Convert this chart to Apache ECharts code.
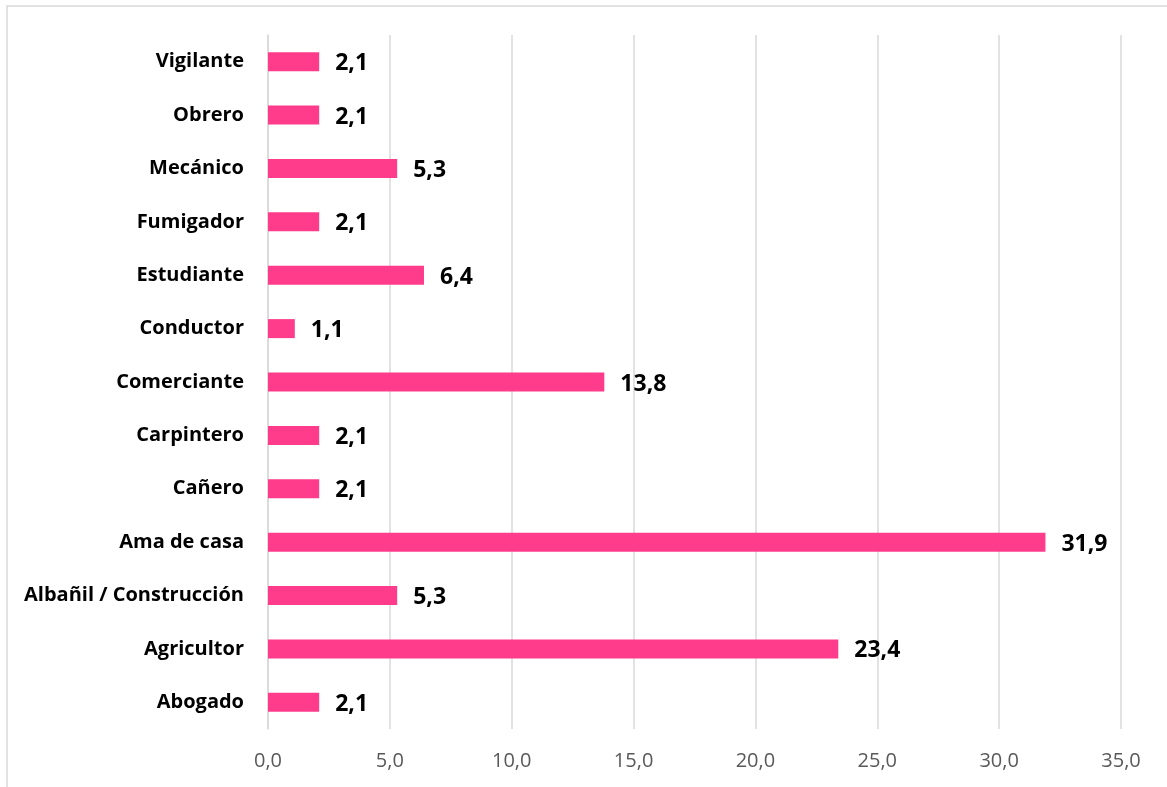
<!DOCTYPE html>
<html><head><meta charset="utf-8">
<script src="https://cdn.jsdelivr.net/npm/echarts@6/dist/echarts.min.js"></script>
<style>html,body{margin:0;padding:0;background:#fff}#c{width:1167px;height:787px}</style>
</head><body><div id="c"></div>
<script>
const categories = ['Abogado','Agricultor','Albañil / Construcción','Ama de casa','Cañero','Carpintero','Comerciante','Conductor','Estudiante','Fumigador','Mecánico','Obrero','Vigilante'];
const values = [2.1, 23.4, 5.3, 31.9, 2.1, 2.1, 13.8, 1.1, 6.4, 2.1, 5.3, 2.1, 2.1];
const fmt = v => v.toFixed(1).replace('.', ',');
const chart = echarts.init(document.getElementById('c'));
chart.setOption({
  animation:false,
  backgroundColor:'#fff',
  graphic:[{type:'rect',shape:{x:7,y:6,width:1200,height:900},style:{fill:'none',stroke:'#d9d9d9',lineWidth:1.5},silent:true}],
  grid:{left:268,right:46,top:35,bottom:58},
  xAxis:{type:'value',min:0,max:35,interval:5,
    axisLine:{show:false},axisTick:{show:false},
    splitLine:{lineStyle:{color:'#d9d9d9',width:1.5}},
    axisLabel:{formatter:v=>fmt(v),color:'#595959',fontSize:20,fontFamily:'Open Sans',margin:22}},
  yAxis:{type:'category',data:categories,
    axisLine:{show:true,lineStyle:{color:'#d9d9d9',width:1.5}},axisTick:{show:false},
    axisLabel:{color:'#000',fontWeight:'bold',fontSize:20,fontFamily:'Open Sans',margin:24}},
  series:[{type:'bar',data:values,barWidth:19,itemStyle:{color:'#FF3B8B'},
    label:{show:true,position:'right',distance:16,offset:[0,2],formatter:p=>fmt(p.value),color:'#000',fontWeight:'bold',fontSize:23,fontFamily:'Open Sans'}}]
});
</script></body></html>
